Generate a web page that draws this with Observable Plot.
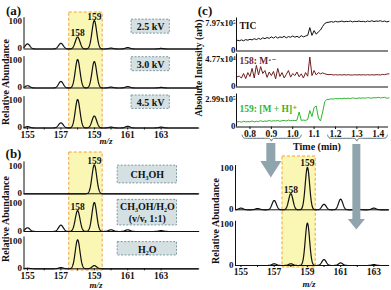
<!DOCTYPE html>
<html><head><meta charset="utf-8">
<script src="https://cdn.jsdelivr.net/npm/d3@7"></script>
<script src="https://cdn.jsdelivr.net/npm/@observablehq/plot@0.6"></script>
<style>
html,body{margin:0;padding:0;background:#fff;}
#fig{position:relative;width:391px;height:290px;overflow:hidden;background:#fff;
 font-family:"Liberation Serif","DejaVu Serif",serif;font-weight:bold;color:#111;}
#fig svg{position:absolute;overflow:visible;}
.lbl{position:absolute;white-space:nowrap;line-height:1;}
</style></head><body>
<div id="fig"></div>
<script>
// ---------------- data ----------------
const peakMz = [155, 157, 158, 159, 160, 161, 163];
const kv25 = [18, 20, 42, 100, 3, 5, 2];
const kv30 = [8, 23, 100, 93, 3, 5, 2];
const kv45 = [5, 18, 100, 42, 3, 6, 3];
const kvLabels = ["2.5 kV", "3.0 kV", "4.5 kV"];

const solvMeOH = [0, 0, 0, 100, 0, 0, 0];
const solvMix = [13, 22, 72, 100, 6, 6, 3];
const solvWater = [2, 4, 100, 11, 0, 0, 0];
const solvLabels = ["CH₃OH", "CH₃OH/H₂O\n(v/v, 1:1)", "H₂O"];

const peakMzC = [155, 156, 157, 158, 159, 160, 161, 162, 163];
const specEarly = [4, 3, 22, 38, 100, 13, 25, 2, 4];
const specLate = [0, 0, 4, 4, 100, 14, 6, 0, 2];

const times = [
 0.74,0.75,0.76,0.77,0.78,0.79,0.80,0.81,0.82,0.83,
 0.84,0.85,0.86,0.87,0.88,0.89,0.90,0.91,0.92,0.93,
 0.94,0.95,0.96,0.97,0.98,0.99,1.00,1.01,1.02,1.03,
 1.04,1.05,1.06,1.07,1.08,1.09,1.10,1.11,1.12,1.13,
 1.14,1.15,1.16,1.17,1.18,1.19,1.20,1.21,1.22,1.23,
 1.24,1.25,1.26,1.27,1.28,1.29,1.30,1.31,1.32,1.33,
 1.34,1.35,1.36,1.37,1.38,1.39,1.40,1.41,1.42,1.43,
 1.44,1.45];
const ticRel = [
 .36,.34,.37,.34,.38,.36,.39,.37,.41,.38,
 .42,.39,.44,.41,.45,.42,.47,.43,.48,.43,
 .47,.45,.49,.44,.48,.46,.50,.46,.49,.45,
 .51,.47,.50,.52,.78,.52,.68,.56,.64,.70,
 .82,.92,.95,.96,.98,.96,.99,.97,.98,1.0,
 .97,.99,.98,1.0,.97,.99,.98,1.0,.98,.99,
 .97,1.0,.98,1.01,.98,1.0,.99,1.01,.98,1.0,
 .97,.99];
const m158Rel = [
 .34,.36,.30,.45,.28,.48,.35,.62,.30,.72,
 .40,.68,.45,.55,.32,.50,.38,.52,.27,.62,
 .35,.48,.30,.42,.55,.33,.45,.38,.50,.34,
 .44,.30,.48,.36,1.0,.38,.55,.40,.48,.44,
 .47,.44,.42,.41,.42,.40,.41,.40,.41,.40,
 .41,.40,.41,.40,.40,.41,.40,.41,.40,.41,
 .40,.41,.40,.41,.40,.41,.41,.40,.42,.41,
 .43,.44];
const m159Rel = [
 .17,.18,.16,.19,.17,.18,.17,.20,.17,.19,
 .18,.21,.18,.20,.19,.22,.19,.21,.20,.22,
 .19,.21,.22,.20,.23,.21,.22,.21,.23,.50,
 .22,.23,.22,.25,.55,.35,.65,.70,.30,.20,
 .50,.85,.92,.92,.94,.93,.95,.94,.95,.94,
 .96,.95,.96,.95,.97,.96,.95,.97,.96,.97,
 .96,.98,.97,.96,.98,.97,.99,.97,.98,.99,
 .96,.97];
const traceNames = ["TIC", "158: M·⁻", "159: [M + H]⁺"];
const traceMax = ["7.97x10⁵", "4.77x10⁴", "2.99x10⁵"];
const timeTicks = [0.8, 0.9, 1.0, 1.1, 1.2, 1.3, 1.4];
const mzTicks = [155, 156, 157, 158, 159, 160, 161, 162, 163];
const highlightMz = [157.5, 159.5];
const windows = [{from: 0.763, to: 1.04, at: 0.9}, {from: 1.163, to: 1.443, at: 1.3}];

// ---------------- style ----------------
const FONT = '"Liberation Serif","DejaVu Serif",serif';
const YELLOW = "#faf7b4", ORANGE = "#f2a23c", BOXFILL = "#d5e0e3", BOXLINE = "#7d98a3", ARROW = "#8fa4ac";
const fig = document.getElementById("fig");
const baseStyle = {background: "transparent", overflow: "visible", fontFamily: FONT, fontWeight: "bold", fontSize: "9.5px", color: "#111"};

function addSvg(svg, left, top) { svg.style.left = left + "px"; svg.style.top = top + "px"; fig.appendChild(svg); }
function label(text, cx, cy, size, extra = "", italic = false) {
  const d = document.createElement("div");
  d.className = "lbl"; d.textContent = text;
  d.style.cssText += `left:${cx}px;top:${cy}px;font-size:${size}px;transform:translate(-50%,-50%) ${extra};` + (italic ? "font-style:italic;" : "");
  fig.appendChild(d);
}

function spectraPanel(c) {
  const bottom = c.bases[c.bases.length - 1];
  const offs = c.bases.map(b => (bottom - b) / c.k);
  const yTop = (bottom - c.boxTop) / c.k;
  const yLow = -(c.boxBottom - bottom) / c.k;
  const grid = d3.range(c.xDomain[0], c.xDomain[1] + 1e-9, 0.02);
  const rows = [];
  c.series.forEach((vals, i) => {
    for (const x of grid) {
      let v = 0;
      c.mz.forEach((m, j) => { v += vals[j] * Math.exp(-((x - m) ** 2) / (2 * c.sigma * c.sigma)); });
      rows.push({mz: x, y: offs[i] + v, s: i});
    }
  });
  const peakTexts = c.peakLabels.flatMap((list, i) => list.map(m => ({mz: m, y: offs[i] + c.series[i][c.mz.indexOf(m)], t: String(m)})));
  const boxes = (c.boxes || []).map((b, i) => ({...b, o: offs[i]}));
  const svg = Plot.plot({
    width: c.width, height: c.height,
    marginLeft: c.xPx[0] - c.left, marginRight: c.left + c.width - c.xPx[1],
    marginTop: c.boxTop - c.top, marginBottom: c.top + c.height - bottom,
    x: {domain: c.xDomain},
    y: {domain: [0, yTop]},
    style: baseStyle,
    marks: [
      Plot.rect([highlightMz], {x1: d => d[0], x2: d => d[1], y1: () => yLow, y2: () => yTop,
        fill: YELLOW, stroke: ORANGE, strokeWidth: 1, strokeDasharray: "3,2"}),
      Plot.ruleY(offs, {stroke: "#111", strokeWidth: 1}),
      Plot.ruleX(offs, {x: () => c.xDomain[0], y1: d => d, y2: d => d + c.axisLen, stroke: "#111", strokeWidth: 1}),
      Plot.line(rows, {x: "mz", y: "y", z: "s", stroke: "#111", strokeWidth: 1.2}),
      Plot.rect(boxes, {x1: "x1", x2: "x2", y1: d => d.o + d.y1, y2: d => d.o + d.y2,
        fill: BOXFILL, stroke: BOXLINE, strokeWidth: 1, strokeDasharray: "2,1.5"}),
      Plot.text(boxes, {x: d => (d.x1 + d.x2) / 2, y: d => d.o + (d.y1 + d.y2) / 2, text: "text",
        fontSize: 10, fontWeight: "bold", lineHeight: 1.2, fill: "#111"}),
      Plot.text(peakTexts, {x: "mz", y: "y", text: "t", lineAnchor: "bottom", dy: -1,
        fontSize: 9.5, fontWeight: "bold", fill: "#111"}),
      Plot.axisY({ticks: offs, tickFormat: () => "0", tickSize: 0, tickPadding: 2, label: null, dy: -0.5,
        fontSize: 9, fontWeight: "bold"}),
      Plot.axisY({ticks: offs.map(o => o + 100), tickFormat: () => "100", tickSize: 0, tickPadding: 2, label: null, dy: 1,
        fontSize: 9, fontWeight: "bold"}),
      Plot.axisX({ticks: mzTicks, tickFormat: d => (d % 2 ? String(d) : ""), tickSize: 2, tickPadding: 1, label: null,
        fontSize: 9.5, fontWeight: "bold"})
    ]
  });
  addSvg(svg, c.left, c.top);
}

// ---------- (a) ----------
spectraPanel({
  left: 0, top: 0, width: 200, height: 145,
  xDomain: [154.79, 165.25], xPx: [23.5, 198.2],
  bases: [48.5, 87.5, 127.5], k: 0.285, boxTop: 12, boxBottom: 128,
  mz: peakMz, series: [kv25, kv30, kv45], sigma: 0.14, axisLen: 110,
  peakLabels: [[158, 159], [], []],
  boxes: [
    {x1: 161.23, x2: 163.52, y1: 54, y2: 103, text: kvLabels[0]},
    {x1: 161.23, x2: 163.52, y1: 59, y2: 108, text: kvLabels[1]},
    {x1: 161.23, x2: 163.52, y1: 67, y2: 114, text: kvLabels[2]}
  ]
});
// ---------- (b) ----------
spectraPanel({
  left: 0, top: 145, width: 200, height: 145,
  xDomain: [154.79, 165.25], xPx: [23.5, 198.2],
  bases: [193.3, 231, 268.3], k: 0.29, boxTop: 152, boxBottom: 270,
  mz: peakMz, series: [solvMeOH, solvMix, solvWater], sigma: 0.14, axisLen: 110,
  peakLabels: [[159], [158], []],
  boxes: [
    {x1: 160.4, x2: 163.95, y1: 36, y2: 97, text: solvLabels[0]},
    {x1: 160.4, x2: 163.95, y1: 21, y2: 109, text: solvLabels[1]},
    {x1: 160.4, x2: 163.95, y1: 46, y2: 92, text: solvLabels[2]}
  ]
});
// ---------- (c) lower spectra ----------
spectraPanel({
  left: 195, top: 148, width: 196, height: 142,
  xDomain: [154.67, 163.9], xPx: [235, 388.3],
  bases: [209.3, 265], k: 0.425, boxTop: 156, boxBottom: 267,
  mz: peakMzC, series: [specEarly, specLate], sigma: 0.13, axisLen: 104,
  peakLabels: [[158, 159], []],
  boxes: []
});

// ---------- (c) time traces ----------
const timeDomain = [0.737, 1.448];
(function timePanel() {
  const left = 195, top = 0, width = 196, height = 150;
  const xPx = [236, 388];
  const bases = [50.5, 86.5, 126.5], k = 30, bottom = 126.5, plotTop = 16;
  const offs = bases.map(b => (bottom - b) / k);
  const yTop = (bottom - plotTop) / k;
  const series = [ticRel, m158Rel, m159Rel];
  const colors = ["#111111", "#6e1f1f", "#2fb52f"];
  const labelY = [0.83, 0.88, 0.61];
  const maxLab = new Map(offs.map((o, i) => [o + 1, traceMax[i]]));
  const lineMarks = series.map((vals, i) =>
    Plot.line(times.map((t, j) => ({t, y: offs[i] + vals[j]})), {x: "t", y: "y", stroke: colors[i], strokeWidth: 1}));
  const nameMarks = traceNames.map((n, i) =>
    Plot.text([n], {x: () => timeDomain[0], y: () => offs[i] + labelY[i], text: d => d, fill: colors[i], dx: 3,
      textAnchor: "start", fontSize: 9.5, fontWeight: "bold"}));
  const svg = Plot.plot({
    width, height,
    marginLeft: xPx[0] - left, marginRight: left + width - xPx[1],
    marginTop: plotTop - top, marginBottom: top + height - bottom,
    x: {domain: timeDomain},
    y: {domain: [0, yTop]},
    style: baseStyle,
    marks: [
      Plot.ruleY(offs, {stroke: "#111", strokeWidth: 1}),
      Plot.ruleX(offs, {x: () => timeDomain[0], y1: d => d, y2: d => d + 1.1, stroke: "#111", strokeWidth: 1}),
      ...lineMarks,
      ...nameMarks,
      Plot.axisY({ticks: offs, tickFormat: () => "0", tickSize: 0, tickPadding: 1, label: null, dy: -1,
        fontSize: 9, fontWeight: "bold"}),
      Plot.axisY({ticks: offs.map(o => o + 1), tickFormat: d => maxLab.get(d), tickSize: 0, tickPadding: 1, label: null, dy: 2.5,
        fontSize: 8.5, fontWeight: "bold"}),
      Plot.axisX({ticks: timeTicks, tickFormat: d3.format(".1f"), tickSize: 2.5, tickPadding: 1, label: null,
        fontSize: 9.5, fontWeight: "bold"})
    ]
  });
  addSvg(svg, left, top);
})();

// ---------- (c) braces and arrows overlay ----------
(function overlay() {
  const left = 195, top = 0, width = 196, height = 290;
  const xPx = [236, 388];
  const pxPerT = (xPx[1] - xPx[0]) / (timeDomain[1] - timeDomain[0]);
  const arrowShape = [{top: 143, neck: 161, tip: 177.5, shaft: 9, head: 21}, {top: 144, neck: 219, tip: 229.5, shaft: 8, head: 17}];
  const arrowRows = windows.flatMap((w, i) => {
    const a = arrowShape[i], s = a.shaft / 2 / pxPerT, h = a.head / 2 / pxPerT;
    return [
      {id: i, y: a.top, x1: w.at - s, x2: w.at + s},
      {id: i, y: a.neck, x1: w.at - s, x2: w.at + s},
      {id: i, y: a.neck, x1: w.at - h, x2: w.at + h},
      {id: i, y: a.tip, x1: w.at, x2: w.at}
    ];
  });
  const y0 = 134.5, y1 = 137.8, y2 = 142, e = 4 / pxPerT;
  const braceRows = windows.flatMap((w, i) => [
    {id: i, t: w.from, y: y0}, {id: i, t: w.from + e * 0.3, y: y1}, {id: i, t: w.from + e, y: y1},
    {id: i, t: w.at - e, y: y1}, {id: i, t: w.at - e * 0.2, y: y1}, {id: i, t: w.at, y: y2},
    {id: i, t: w.at + e * 0.2, y: y1}, {id: i, t: w.at + e, y: y1},
    {id: i, t: w.to - e, y: y1}, {id: i, t: w.to - e * 0.3, y: y1}, {id: i, t: w.to, y: y0}
  ]);
  const svg = Plot.plot({
    width, height,
    marginLeft: xPx[0] - left, marginRight: left + width - xPx[1], marginTop: 0, marginBottom: 0,
    x: {domain: timeDomain, axis: null},
    y: {domain: [0, height], range: [0, height], axis: null},
    style: baseStyle,
    marks: [
      Plot.line(braceRows, {x: "t", y: "y", z: "id", stroke: "#5a717b", strokeWidth: 1, curve: "basis"}),
      Plot.areaX(arrowRows, {y: "y", x1: "x1", x2: "x2", z: "id", fill: ARROW})
    ]
  });
  addSvg(svg, left, top);
})();

// ---------- text labels ----------
label("(a)", 13.5, 9.5, 13);
label("(b)", 13.5, 153, 13);
label("(c)", 205, 10, 13);
label("Relative Abundance", 5.5, 82, 10, "rotate(-90deg)");
label("Relative Abundance", 5.5, 219, 10, "rotate(-90deg)");
label("Relative Abundance", 215.5, 221, 10, "rotate(-90deg)");
label("Absolute Intensity (arb)", 200, 68, 9.5, "rotate(-90deg)");
label("Time (min)", 317, 146.5, 10);
label("m/z", 106, 141, 9, "", true);
label("m/z", 96, 285, 9, "", true);
label("m/z", 309, 284, 9, "", true);
</script>
</body></html>
